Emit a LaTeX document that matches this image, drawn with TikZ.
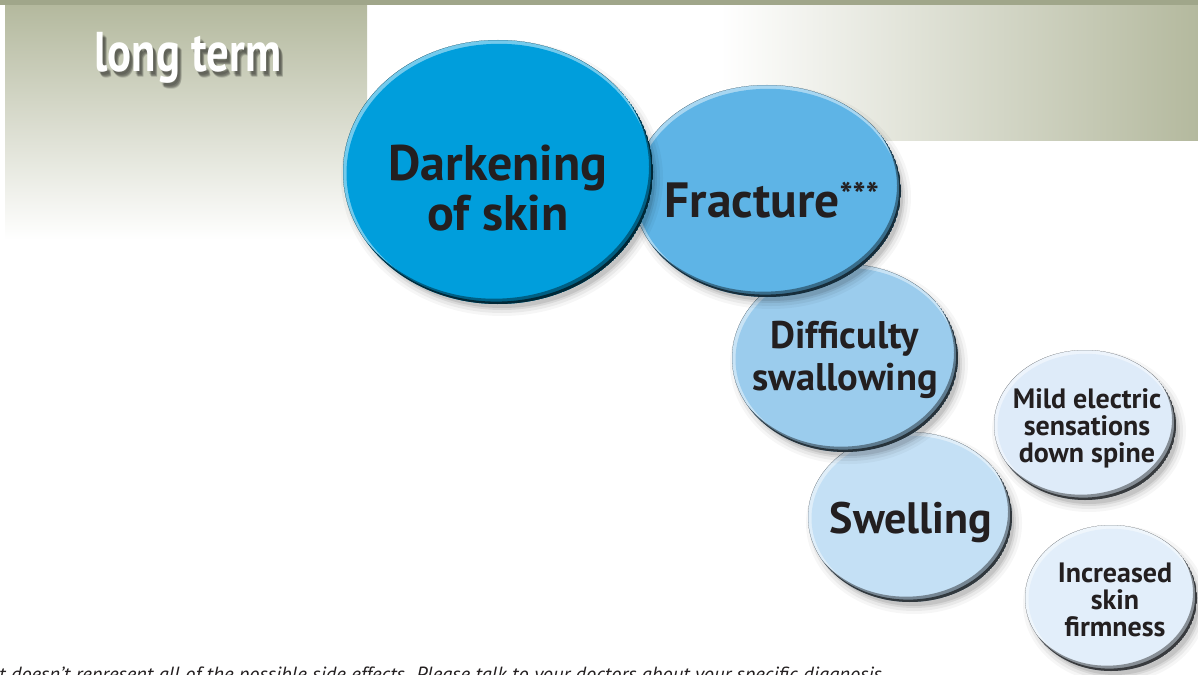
\documentclass[tikz,border=0pt]{standalone}
\usepackage{fontspec}
\setmainfont{PT Sans}
\usetikzlibrary{calc}
\definecolor{ink}{RGB}{35,31,32}
\definecolor{barc}{RGB}{160,166,138}
\definecolor{panelc}{RGB}{180,185,158}
\definecolor{cA}{RGB}{0,158,220}
\definecolor{cB}{RGB}{94,180,230}
\definecolor{cC}{RGB}{155,204,237}
\definecolor{cD}{RGB}{196,224,245}
\definecolor{cE}{RGB}{222,235,249}
\definecolor{cF}{RGB}{226,238,250}
\tikzset{
  lbl/.style={text=ink, align=center, inner sep=0pt},
  note/.style={text=ink, inner sep=0pt, font=\itshape\fontsize{20.5}{20.5}\selectfont},
  pics/bubble/.style n args={3}{code={
    \foreach \s/\o in {9/0.035,6/0.05,3/0.07,1/0.09}{
      \fill[black,opacity=\o] (4,6) ellipse [x radius=#1+\s-3, y radius=#2+\s-3];
    }
    \begin{scope}
      \clip (0,0) ellipse [x radius=#1, y radius=#2];
      \fill[#3!55!white] (0,0) ellipse [x radius=#1, y radius=#2];
      \fill[#3] (1,1.3) ellipse [x radius=#1-2.5, y radius=#2-2.5];
      \fill[#3!60!black, even odd rule] (0,0) ellipse [x radius=#1, y radius=#2] (-4,-5.3) ellipse [x radius=#1, y radius=#2];
      \fill[#3!25!black, even odd rule] (0,0) ellipse [x radius=#1, y radius=#2] (-1.8,-2.4) ellipse [x radius=#1, y radius=#2];
    \end{scope}
  }}
}
\begin{document}
\begin{tikzpicture}[x=1pt,y=-1pt]
\useasboundingbox (0,0) rectangle (1198,674);
\clip (0,0) rectangle (1198,674);
\fill[white] (0,0) rectangle (1198,674);
% panels
\shade[top color=panelc, bottom color=white] (5,5) rectangle (367,240);
\shade[left color=white, right color=panelc] (720,5) rectangle (1198,140);
\fill[barc] (0,0) rectangle (1198,5);
% title with soft shadow
\foreach \dx/\dy in {2/3,3/4,4/5,3/5,4/6}{
  \node[anchor=base, text=black, opacity=0.13, inner sep=0pt, font=\bfseries\fontsize{56}{56}\selectfont] at (188+\dx,72+\dy) {\scalebox{0.8}[1]{long term}};
}
\node[anchor=base, text=white, inner sep=0pt, font=\bfseries\fontsize{56}{56}\selectfont] (title) at (188,72) {\scalebox{0.8}[1]{long term}};
% bubbles, back to front
\pic (bF) at (1111,598) {bubble={86}{73}{cF}};
\pic (bE) at (1085,425) {bubble={91}{75}{cE}};
\pic (bD) at (910,517) {bubble={102}{85}{cD}};
\pic (bC) at (845,358) {bubble={113}{94}{cC}};
\pic (bB) at (767,191) {bubble={134}{106}{cB}};
\pic (bA) at (498,172) {bubble={155}{132}{cA}};
% labels
\node[lbl, font=\bfseries\fontsize{50}{50}\selectfont] (dark) at (498,188) {Darkening\\of skin};
\node[lbl, anchor=base, font=\bfseries\fontsize{49.5}{50}\selectfont] (frac) at (772,217) {Fracture\textsuperscript{***}};
\node[lbl, font=\bfseries\fontsize{38.5}{42}\selectfont] (diff) at (845,360) {Difficulty\\swallowing};
\node[lbl, anchor=base, font=\bfseries\fontsize{44}{44}\selectfont] (swel) at (911,533) {Swelling};
\node[lbl, font=\bfseries\fontsize{28}{27}\selectfont] (mild) at (1087,428) {Mild electric\\sensations\\down spine};
\node[lbl, font=\bfseries\fontsize{28}{27}\selectfont] (incr) at (1115,600) {Increased\\skin\\firmness};
% footnote
\node[note, anchor=base west] (foot) at (-1,681) {t doesn’t represent all of the possible side effects. Please talk to your doctors about your specific diagnosis.};
\end{tikzpicture}
\end{document}
